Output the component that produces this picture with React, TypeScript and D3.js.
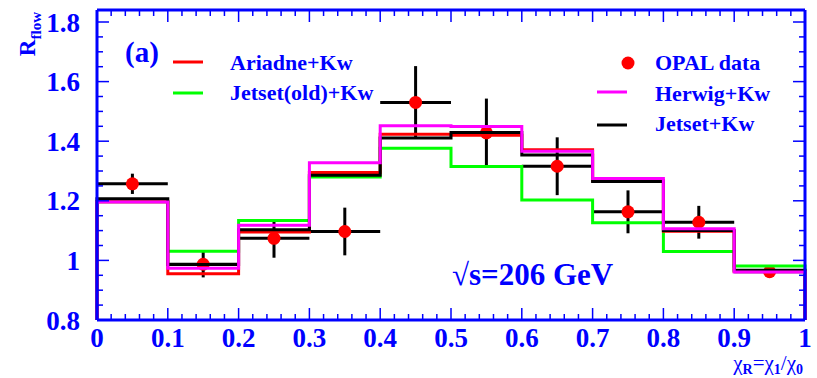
import React from "react";
import * as d3 from "d3";

const binEdges = [0, 0.1, 0.2, 0.3, 0.4, 0.5, 0.6, 0.7, 0.8, 0.9, 1.0];
const ariadne = [1.197, 0.955, 1.095, 1.295, 1.423, 1.42, 1.371, 1.268, 1.098, 0.963];
const jetsetOld = [1.197, 1.031, 1.134, 1.28, 1.376, 1.315, 1.203, 1.126, 1.03, 0.981];
const jetset = [1.207, 0.986, 1.103, 1.286, 1.411, 1.429, 1.354, 1.265, 1.1, 0.967];
const herwig = [1.196, 0.974, 1.118, 1.328, 1.452, 1.449, 1.366, 1.275, 1.106, 0.961];

const dataX = [0.05, 0.15, 0.25, 0.35, 0.45, 0.55, 0.65, 0.75, 0.85, 0.95];
const dataY = [1.257, 0.987, 1.074, 1.097, 1.53, 1.428, 1.316, 1.163, 1.128, 0.962];
const dataErr = [0.034, 0.044, 0.065, 0.08, 0.122, 0.115, 0.097, 0.072, 0.055, 0.012];

const xTickLabels = ["0", "0.1", "0.2", "0.3", "0.4", "0.5", "0.6", "0.7", "0.8", "0.9", "1"];
const yTickLabels = ["0.8", "1", "1.2", "1.4", "1.6", "1.8"];

const BLUE = "#0000ff";
const FONT = "'Liberation Serif', 'Times New Roman', serif";

const L = 97, R = 805, T = 10, B = 320;
const x = d3.scaleLinear().domain([0, 1]).range([L, R]);
const y = d3.scaleLinear().domain([0.8, 1.8]).range([B, 22]);

function histPath(vals: number[]) {
  const pts: [number, number][] = [[x(binEdges[0]), y(0.8)]];
  vals.forEach((v, i) => {
    pts.push([x(binEdges[i]), y(v)]);
    pts.push([x(binEdges[i + 1]), y(v)]);
  });
  pts.push([x(binEdges[binEdges.length - 1]), y(0.8)]);
  return d3.line()(pts) as string;
}

export default function App() {
  const xMajor = d3.range(0, 1.0001, 0.1);
  const xMinor = d3.range(0, 1.0001, 0.02).filter((v) => Math.abs(v * 10 - Math.round(v * 10)) > 1e-6);
  const yMajor = d3.range(0.8, 1.8001, 0.2);
  const yMinor = d3.range(0.8, 1.8401, 0.05).filter((v) => Math.abs((v - 0.8) * 5 - Math.round((v - 0.8) * 5)) > 1e-6);
  const major = 12, minor = 6;
  const hists = [
    { vals: jetsetOld, color: "#00ff00" },
    { vals: ariadne, color: "#ff0000" },
    { vals: jetset, color: "#000000" },
    { vals: herwig, color: "#ff00ff" },
  ];
  return (
    <svg width={817} height={378} style={{ position: "absolute", left: 0, top: 0, background: "#fff" }} fontFamily={FONT}>
      <rect x={0} y={0} width={817} height={378} fill="#fff" />
      {dataX.map((cx, i) => (
        <g key={"d" + i}>
          <line x1={x(cx - 0.05)} x2={x(cx + 0.05)} y1={y(dataY[i])} y2={y(dataY[i])} stroke="#000" strokeWidth={3} />
          <line x1={x(cx)} x2={x(cx)} y1={y(dataY[i] - dataErr[i])} y2={y(dataY[i] + dataErr[i])} stroke="#000" strokeWidth={3} />
          <circle cx={x(cx)} cy={y(dataY[i])} r={6.5} fill="#ff0000" />
        </g>
      ))}
      {hists.map((h, i) => (
        <path key={"h" + i} d={histPath(h.vals)} fill="none" stroke={h.color} strokeWidth={3} />
      ))}
      {xMajor.map((v, i) => (
        <g key={"xM" + i}>
          <line x1={x(v)} x2={x(v)} y1={B} y2={B - major} stroke={BLUE} strokeWidth={1.5} />
          <line x1={x(v)} x2={x(v)} y1={T} y2={T + major} stroke={BLUE} strokeWidth={1.5} />
        </g>
      ))}
      {xMinor.map((v, i) => (
        <g key={"xm" + i}>
          <line x1={x(v)} x2={x(v)} y1={B} y2={B - minor} stroke={BLUE} strokeWidth={1.5} />
          <line x1={x(v)} x2={x(v)} y1={T} y2={T + minor} stroke={BLUE} strokeWidth={1.5} />
        </g>
      ))}
      {yMajor.map((v, i) => (
        <g key={"yM" + i}>
          <line x1={L} x2={L + major} y1={y(v)} y2={y(v)} stroke={BLUE} strokeWidth={1.5} />
          <line x1={R} x2={R - major} y1={y(v)} y2={y(v)} stroke={BLUE} strokeWidth={1.5} />
        </g>
      ))}
      {yMinor.map((v, i) => (
        <g key={"ym" + i}>
          <line x1={L} x2={L + minor} y1={y(v)} y2={y(v)} stroke={BLUE} strokeWidth={1.5} />
          <line x1={R} x2={R - minor} y1={y(v)} y2={y(v)} stroke={BLUE} strokeWidth={1.5} />
        </g>
      ))}
      <line x1={L} x2={R} y1={B} y2={B} stroke={BLUE} strokeWidth={3} />
      <line x1={L} x2={L} y1={T} y2={B} stroke={BLUE} strokeWidth={3} />
      <line x1={L} x2={R} y1={T} y2={T} stroke={BLUE} strokeWidth={3} />
      <line x1={R} x2={R} y1={T} y2={B} stroke={BLUE} strokeWidth={3} />
      {xTickLabels.map((t, i) => (
        <text key={"xl" + i} x={x(xMajor[i])} y={347} textAnchor="middle" fontSize={27} fontWeight="bold" fill={BLUE}>
          {t}
        </text>
      ))}
      {yTickLabels.map((t, i) => (
        <text key={"yl" + i} x={80} y={y(yMajor[i]) + 9.5} textAnchor="end" fontSize={27} fontWeight="bold" fill={BLUE}>
          {t}
        </text>
      ))}
      <text transform="translate(35,12) rotate(-90)" textAnchor="end" fontSize={23} fontWeight="bold" fill={BLUE}>
        R<tspan fontSize={15} dy={6}>flow</tspan>
      </text>
      <text x={803} y={370} textAnchor="end" fontSize={21} fill={BLUE}>
        χ<tspan fontSize={14} fontWeight="bold" dy={4}>R</tspan>
        <tspan dy={-4}>=χ</tspan>
        <tspan fontSize={14} fontWeight="bold" dy={4}>1</tspan>
        <tspan dy={-4}>/χ</tspan>
        <tspan fontSize={14} fontWeight="bold" dy={4}>0</tspan>
      </text>
      <text x={125} y={62} fontSize={29} fontWeight="bold" fill={BLUE}>(a)</text>
      <line x1={173} x2={203} y1={62} y2={62} stroke="#ff0000" strokeWidth={3} />
      <text x={230} y={69.5} fontSize={22} fontWeight="bold" fill={BLUE}>Ariadne+Kw</text>
      <line x1={173} x2={203} y1={93} y2={93} stroke="#00ff00" strokeWidth={3} />
      <text x={230} y={100} fontSize={22} fontWeight="bold" fill={BLUE}>Jetset(old)+Kw</text>
      <circle cx={628} cy={63} r={6.5} fill="#ff0000" />
      <text x={655} y={69.5} fontSize={22} fontWeight="bold" fill={BLUE}>OPAL data</text>
      <line x1={597} x2={627} y1={92} y2={92} stroke="#ff00ff" strokeWidth={3} />
      <text x={655} y={101} fontSize={22} fontWeight="bold" fill={BLUE}>Herwig+Kw</text>
      <line x1={597} x2={627} y1={125} y2={125} stroke="#000000" strokeWidth={3} />
      <text x={655} y={131} fontSize={22} fontWeight="bold" fill={BLUE}>Jetset+Kw</text>
      <text x={452} y={285} fontSize={31} fontWeight="bold" fill={BLUE}>√s=206 GeV</text>
    </svg>
  );
}
